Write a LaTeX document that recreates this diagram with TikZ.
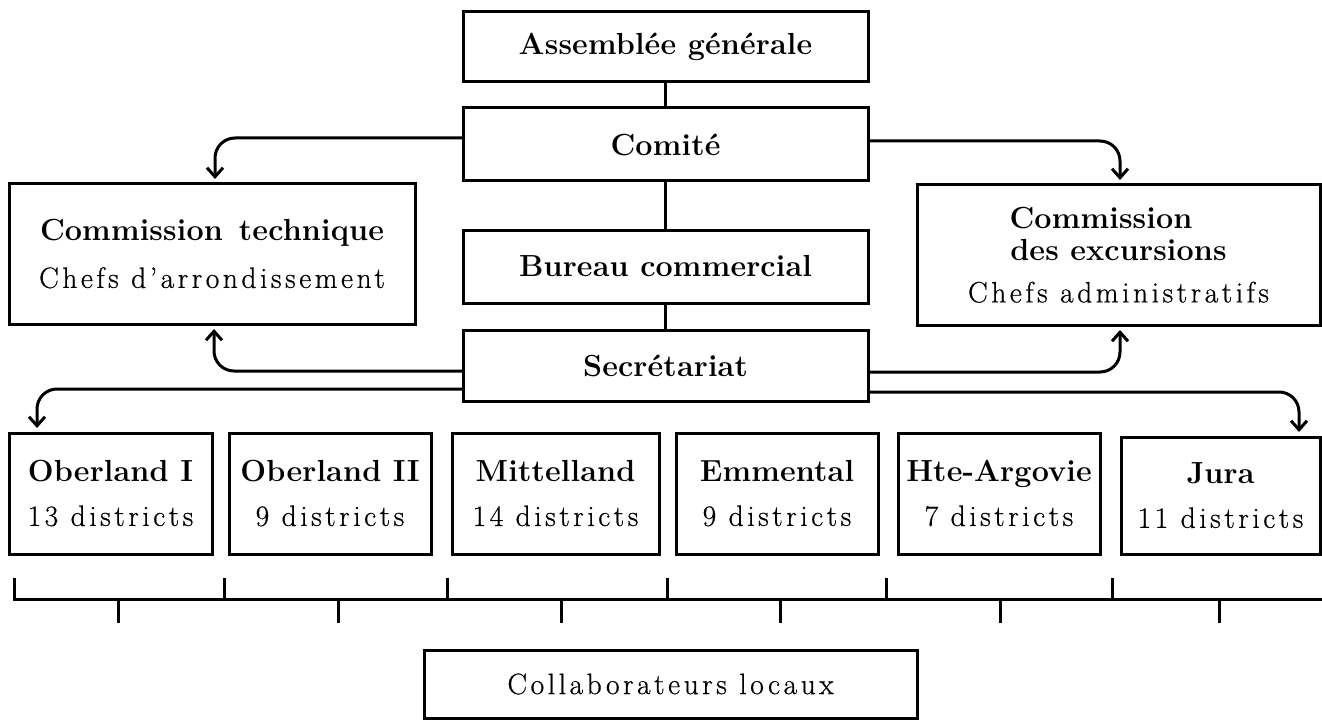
\documentclass[tikz,border=0pt]{standalone}
\usepackage{fontspec}
\setmainfont{Latin Modern Roman}
\newfontfamily\regfont{Latin Modern Roman}[LetterSpace=12,FakeBold=0.6]
\newfontfamily\bldfont{Latin Modern Roman}[LetterSpace=0.5]
\usetikzlibrary{arrows.meta}
\newcommand{\txtR}{\regfont\fontsize{29.5}{30}\selectfont}
\newcommand{\txtB}{\bldfont\bfseries\fontsize{30.5}{30}\selectfont}
\begin{document}
\begin{tikzpicture}[x=1pt,y=-1pt,
  box/.style={draw, line width=3pt, inner sep=0pt, outer sep=0pt, align=center, font=\txtR},
  link/.style={line width=3pt},
  arr/.style={line width=3pt, rounded corners=20pt, -{Straight Barb[length=9pt,width=16pt]}, shorten >=5pt}
]
\useasboundingbox (0,0) rectangle (1322,722);
\fill[white] (0,0) rectangle (1322,722);

\node[box, minimum width=405pt, minimum height=70pt] (ag) at (665.5,47) {\txtB Assemblée générale};
\node[box, minimum width=405pt, minimum height=73pt] (com) at (665.5,144.5) {\txtB Comité};
\node[box, minimum width=405pt, minimum height=73pt] (bur) at (665.5,266.5) {\txtB Bureau commercial};
\node[box, minimum width=405pt, minimum height=71pt] (sec) at (665.5,365.5) {\txtB Secrétariat};

\node[box, minimum width=406pt, minimum height=140pt] (ct) at (212,254)
  {{\txtB Commission\hspace{16pt}technique}\\[17pt]Chefs d’arrondissement};
\node[box, minimum width=403pt, minimum height=140pt] (ce) at (1118.5,255)
  {{\txtB Commission\hspace*{35pt}}\\[2pt]{\txtB des excursions}\\[12pt]Chefs administratifs};

\node[box, minimum width=203pt, minimum height=121pt] (ob1) at (110.5,493.5) {{\txtB Oberland I}\\[14pt]13 districts};
\node[box, minimum width=202pt, minimum height=121pt] (ob2) at (330,493.5) {{\txtB Oberland II}\\[14pt]9 districts};
\node[box, minimum width=207pt, minimum height=121pt] (mit) at (555.5,493.5) {{\txtB Mittelland}\\[14pt]14 districts};
\node[box, minimum width=202pt, minimum height=121pt] (emm) at (777,493.5) {{\txtB Emmental}\\[14pt]9 districts};
\node[box, minimum width=202pt, minimum height=121pt] (hte) at (999,493.5) {{\txtB Hte-Argovie}\\[14pt]7 districts};
\node[box, minimum width=199pt, minimum height=117pt] (jura) at (1220.5,495.5) {{\txtB Jura}\\[14pt]11 districts};

\node[box, minimum width=493pt, minimum height=68pt] (col) at (670.5,684) {Collaborateurs locaux};

\draw[link] (ag.south) -- (com.north);
\draw[link] (com.south) -- (bur.north);
\draw[link] (bur.south) -- (sec.north);

\draw[arr] ([yshift=6.5pt]com.west) -| ([xshift=3pt]ct.north);
\draw[arr] ([yshift=3.5pt]com.east) -| ([xshift=1.5pt]ce.north);
\draw[arr] ([yshift=-5.5pt]sec.west) -| ([xshift=2pt]ct.south);
\draw[arr] ([yshift=-23.5pt]sec.west) -| ([xshift=28pt]ob1.north west);
\draw[arr] ([yshift=-6.5pt]sec.east) -| ([xshift=1.5pt]ce.south);
\draw[arr] ([yshift=-26.5pt]sec.east) -| ([xshift=-21pt]jura.north east);

\coordinate (bstart) at (14,578);
\coordinate (bcorner) at (14,599);
\coordinate (bend) at (1322,599);
\draw[link, line join=miter] (bstart) -- (bcorner) -- (bend);
\foreach \x in {224,447,667,886,1112} \draw[link] (\x,578) -- (\x,599);
\foreach \x in {118,338,561,780,1000,1219} \draw[link] (\x,599) -- (\x,623);
\end{tikzpicture}
\end{document}
